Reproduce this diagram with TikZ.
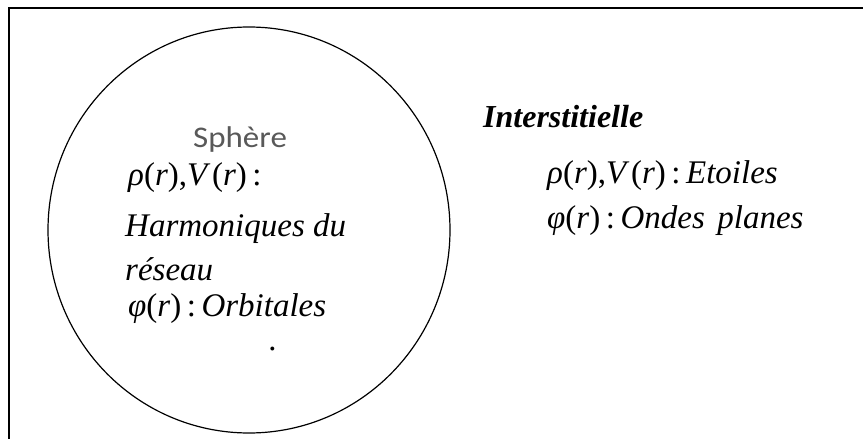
\documentclass[tikz,border=0pt]{standalone}
\usepackage{fontspec}
\setmainfont{Liberation Serif}
\newfontfamily\calib{Carlito}
\newcommand{\mi}[1]{\textit{#1}}
\newcommand{\rhoV}{\mi{ρ}(\mi{r}),\mi{V}\kern1.5pt(\mi{r})\,:}
\newcommand{\phir}{\mi{φ}(\mi{r})\,:}
\begin{document}
\begin{tikzpicture}[x=1pt,y=-1pt,
  frame/.style={line width=1.3pt, black},
  txt/.style={anchor=base west, inner sep=0pt, font=\fontsize{33}{38}\selectfont},
  ttl/.style={anchor=base west, inner sep=0pt, font=\fontsize{32}{38}\selectfont\bfseries\itshape},
  sph/.style={anchor=base west, inner sep=0pt, text=black!65, font=\fontsize{30}{34}\calib}]
\useasboundingbox (0,0) rectangle (863,439);
\draw[frame] (9,440) -- (9,8) -- (864,8);
\draw[line width=1.2pt] (249,230) ellipse [x radius=201, y radius=203];
% sphere texts
\node[sph] (sphere) at (193,147) {\scalebox{1.1}[1]{Sphère}};
\node[txt] (rl) at (128,185) {\rhoV};
\node[txt] (harm) at (125,236) {\mi{Harmoniques du}};
\node[txt] (res) at (125,280) {\mi{réseau}};
\node[txt] (pl) at (128,316) {\phir\,\mi{Orbitales}};
\node[txt] (dot) at (269,350) {\mi{.}};
% interstitial texts
\node[ttl] (inter) at (483,127) {Interstitielle};
\node[txt] (rr) at (547,183) {\rhoV\,\mi{Etoiles}};
\node[txt] (pr) at (547,228) {\phir\,\mi{Ondes}\hspace{0.38em}\mi{planes}};
\end{tikzpicture}
\end{document}
